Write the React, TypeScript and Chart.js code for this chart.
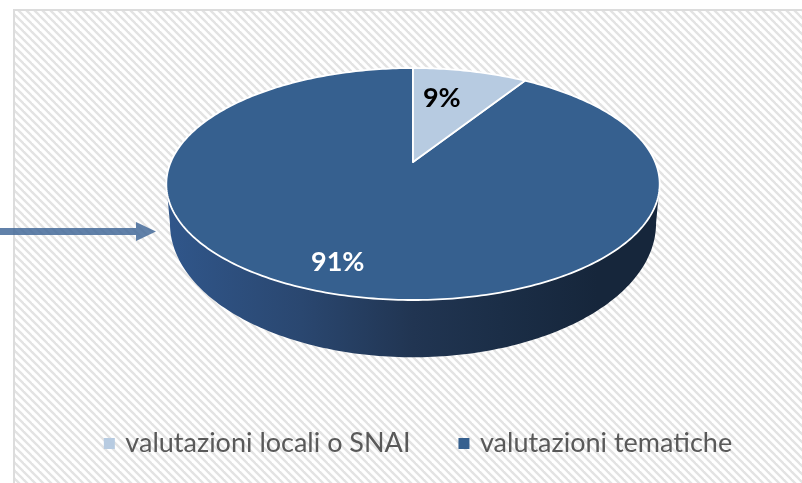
import React, { useEffect, useRef } from "react";
import { Chart, registerables } from "chart.js";

Chart.register(...registerables);

const categories = ["valutazioni locali o SNAI", "valutazioni tematiche"];
const values = [9, 91];
const sliceColors = ["#b7cbe1", "#36608f"];
const labelColors = ["#000000", "#ffffff"];
const labelFractions = [0.66, 0.8];
const labelNudges = [[-11, 0], [-12, 0]];

const PERSPECTIVE = -0.19;
const topFace = { cx: 413, cy: 162, sx: 242.2, sy: 111.8 };
const bottomFace = { cx: 413, cy: 198, sx: 238.6, sy: 129 };
const FONT = "Lato, 'Noto Sans', sans-serif";

function project(face: any, theta: number, f = 1) {
  const xc = Math.cos(theta) * f;
  const yc = Math.sin(theta) * f;
  const w = 1 + PERSPECTIVE * yc;
  return { x: face.cx + (face.sx * xc) / w, y: face.cy + (face.sy * yc) / w };
}

function arcPath(ctx: CanvasRenderingContext2D, face: any, a0: number, a1: number, first: boolean) {
  const steps = Math.max(8, Math.ceil(Math.abs(a1 - a0) * 60));
  for (let i = 0; i <= steps; i++) {
    const p = project(face, a0 + ((a1 - a0) * i) / steps);
    if (i === 0 && first) ctx.moveTo(p.x, p.y);
    else ctx.lineTo(p.x, p.y);
  }
}

const hatchPlugin = {
  id: "hatch",
  beforeDraw(chart: any) {
    const { ctx, width, height } = chart;
    const tile = document.createElement("canvas");
    tile.width = 8;
    tile.height = 8;
    const t = tile.getContext("2d")!;
    t.fillStyle = "#ffffff";
    t.fillRect(0, 0, 8, 8);
    t.strokeStyle = "#e3e3e3";
    t.lineWidth = 2.4;
    for (let i = -8; i <= 8; i += 8) {
      t.beginPath();
      t.moveTo(i - 2, -2);
      t.lineTo(i + 10, 10);
      t.stroke();
    }
    ctx.save();
    ctx.fillStyle = "#ffffff";
    ctx.fillRect(0, 0, width, height);
    ctx.fillStyle = ctx.createPattern(tile, "repeat");
    ctx.fillRect(14, 10, width - 14, height - 10);
    ctx.strokeStyle = "#dcdcdc";
    ctx.lineWidth = 2;
    ctx.beginPath();
    ctx.moveTo(14, height);
    ctx.lineTo(14, 10);
    ctx.lineTo(width, 10);
    ctx.stroke();
    ctx.restore();
  },
};

const pie3dPlugin = {
  id: "pie3d",
  beforeDatasetsDraw(chart: any) {
    const { ctx } = chart;
    const left = Math.PI + Math.asin(-PERSPECTIVE) * -1;
    const right = Math.asin(-PERSPECTIVE);
    const grad = ctx.createLinearGradient(170, 0, 656, 0);
    grad.addColorStop(0, "#30568a");
    grad.addColorStop(0.27, "#2a4770");
    grad.addColorStop(0.5, "#213552");
    grad.addColorStop(0.68, "#1b2e47");
    grad.addColorStop(0.88, "#16263b");
    grad.addColorStop(1, "#16263b");
    ctx.save();
    ctx.fillStyle = grad;
    ctx.beginPath();
    arcPath(ctx, topFace, left, right + Math.PI * 2, true);
    arcPath(ctx, bottomFace, right, left, false);
    ctx.closePath();
    ctx.fill();
    ctx.restore();
  },
  beforeDatasetDraw(chart: any, args: any) {
    const { ctx } = chart;
    const arcs = args.meta.data;
    ctx.save();
    ctx.lineJoin = "round";
    [1, 0].forEach((i) => {
      const a = arcs[i];
      const c = project(topFace, 0, 0);
      ctx.beginPath();
      ctx.moveTo(c.x, c.y);
      arcPath(ctx, topFace, a.startAngle, a.endAngle, false);
      ctx.closePath();
      ctx.fillStyle = a.options.backgroundColor;
      ctx.fill();
      ctx.strokeStyle = "#ffffff";
      ctx.lineWidth = 1.8;
      ctx.stroke();
    });
    ctx.restore();
    return false;
  },
  afterDatasetsDraw(chart: any) {
    const { ctx } = chart;
    const arcs = chart.getDatasetMeta(0).data;
    const total = values.reduce((s, v) => s + v, 0);
    ctx.save();
    ctx.font = `bold 27px ${FONT}`;
    ctx.textAlign = "center";
    ctx.textBaseline = "middle";
    arcs.forEach((a: any, i: number) => {
      const mid = (a.startAngle + a.endAngle) / 2;
      const p = project(topFace, mid, labelFractions[i]);
      ctx.fillStyle = labelColors[i];
      ctx.fillText(`${Math.round((values[i] / total) * 100)}%`, p.x + labelNudges[i][0], p.y + labelNudges[i][1]);
    });
    ctx.restore();
  },
  afterDraw(chart: any) {
    const { ctx } = chart;
    ctx.save();
    ctx.fillStyle = "rgba(62,101,150,0.82)";
    ctx.beginPath();
    ctx.moveTo(0, 228);
    ctx.lineTo(136, 228);
    ctx.lineTo(136, 222);
    ctx.lineTo(156, 231.5);
    ctx.lineTo(136, 241);
    ctx.lineTo(136, 235);
    ctx.lineTo(0, 235);
    ctx.closePath();
    ctx.fill();
    ctx.restore();
  },
};

export default function App() {
  const ref = useRef<HTMLCanvasElement>(null);
  useEffect(() => {
    const chart = new Chart(ref.current!, {
      type: "pie",
      data: {
        labels: categories,
        datasets: [{ data: values, backgroundColor: sliceColors, borderWidth: 0 }],
      },
      options: {
        animation: false,
        responsive: false,
        layout: { padding: { left: 37, bottom: 16 } },
        plugins: {
          tooltip: { enabled: false },
          title: { display: false },
          legend: {
            position: "bottom",
            labels: {
              usePointStyle: true,
              pointStyle: "rect",
              boxWidth: 5,
              boxHeight: 11,
              padding: 51,
              color: "#595959",
              font: { family: FONT, size: 27 },
            },
          },
        },
      },
      plugins: [hatchPlugin, pie3dPlugin],
    } as any);
    return () => chart.destroy();
  }, []);
  return (
    <canvas
      ref={ref}
      width={802}
      height={483}
      style={{ position: "absolute", left: 0, top: 0, display: "block" }}
    />
  );
}
